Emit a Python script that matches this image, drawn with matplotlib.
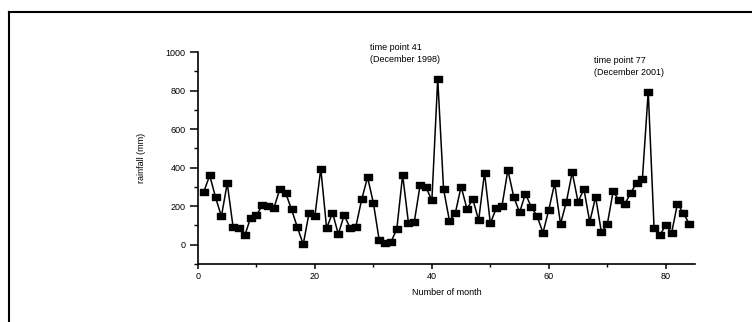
import numpy as np
import matplotlib
matplotlib.use("Agg")
import matplotlib.pyplot as plt
from matplotlib.lines import Line2D
from matplotlib.path import Path

# ---------- data ----------
months = list(range(1, 85))
rainfall = [
    275, 360, 246, 147, 319, 92, 87, 48, 140, 152,
    206, 203, 192, 289, 268, 183, 90, 2, 166, 151,
    395, 85, 166, 55, 154, 87, 94, 236, 350, 216,
    22, 10, 14, 81, 362, 111, 120, 312, 298, 230,
    861, 288, 125, 163, 302, 186, 236, 127, 373, 111,
    189, 203, 388, 248, 168, 264, 196, 148, 62, 182,
    319, 108, 222, 376, 222, 289, 118, 248, 64, 106,
    277, 231, 211, 268, 322, 340, 795, 88, 50, 102,
    61, 213, 165, 109,
]
notes = [(41, "time point 41\n(December 1998)", 29.5, 940),
         (77, "time point 77\n(December 2001)", 67.7, 872)]
xticks = [0, 20, 40, 60, 80]
yticks = [0, 200, 400, 600, 800, 1000]
# ----------------------------------------------------

plt.rcParams['font.family'] = ['Liberation Sans', 'DejaVu Sans']

fig = plt.figure(figsize=(7.52, 3.22), dpi=100)
ax = fig.add_axes([198 / 752, 1 - 264 / 322, 497 / 752, 212 / 322])

# flat rectangular marker like the original
rect = Path([(-1, -0.65), (1, -0.65), (1, 0.65), (-1, 0.65), (-1, -0.65)],
            [Path.MOVETO, Path.LINETO, Path.LINETO, Path.LINETO, Path.CLOSEPOLY])

ax.plot(months, rainfall, color="black", lw=1.1, marker=rect, ms=6.0,
        mfc="black", mec="black")

ax.set_xlim(0, 85)
ax.set_ylim(-100, 1000)
ax.set_xticks(xticks)
ax.set_xticks(range(10, 85, 20), minor=True)
ax.set_yticks(yticks)
ax.set_yticks(range(-100, 1000, 200), minor=True)

for s in ["top", "right"]:
    ax.spines[s].set_visible(False)
for s in ["left", "bottom"]:
    ax.spines[s].set_linewidth(1.2)

ax.tick_params(axis="y", which="major", direction="out", length=6, width=1.1,
               labelsize=6.5, pad=3)
ax.tick_params(axis="y", which="minor", direction="out", length=3, width=1.0)
ax.tick_params(axis="x", which="major", direction="out", length=3.5, width=1.1,
               labelsize=6.5, pad=2.5)
ax.tick_params(axis="x", which="minor", direction="out", length=2, width=1.0)

ax.set_xlabel("Number of month", fontsize=6.5, labelpad=5)
ax.set_ylabel("rainfall (mm)", fontsize=6.5, labelpad=14)

for m, txt, tx, ty in notes:
    ax.annotate(txt, xy=(m, rainfall[m - 1]), xytext=(tx, ty), fontsize=6.5,
                ha="left", va="bottom", linespacing=1.35)

# partial page frame (left and top edges)
fig.add_artist(Line2D([9 / 752, 9 / 752], [0, 1 - 12 / 322],
                      transform=fig.transFigure, color="black", lw=1.5))
fig.add_artist(Line2D([9 / 752, 1], [1 - 12 / 322, 1 - 12 / 322],
                      transform=fig.transFigure, color="black", lw=1.5))

fig.savefig("out.png", dpi=100)
